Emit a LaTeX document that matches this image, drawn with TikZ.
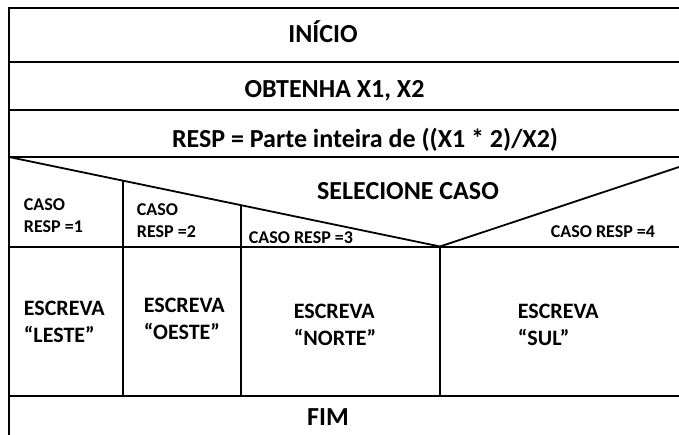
\documentclass[tikz,border=0pt]{standalone}
\usepackage{fontspec}
\setmainfont{Carlito}
\tikzset{
  big/.style={inner sep=0pt, anchor=base, font=\bfseries\fontsize{26}{30}\selectfont},
  cell/.style={inner sep=0pt, anchor=north west, align=left, font=\bfseries\fontsize{22}{27}\selectfont},
  caso/.style={inner sep=0pt, anchor=north west, align=left, font=\bfseries\fontsize{18}{22}\selectfont}
}
\begin{document}
\begin{tikzpicture}[x=1pt,y=-1pt,line width=1.8pt]
\useasboundingbox (0,0) rectangle (679,435);

\draw (679,8) -- (9,8) -- (9,435);
\draw (9,62) -- (679,62);
\draw (9,110) -- (679,110);
\draw (9,157) -- (679,157);
\draw (9,247) -- (679,247);
\draw (9,396) -- (679,396);
\draw (9,157) -- (440,246.5) -- (679,167);
\draw (123,181) -- (123,396);
\draw (241,205.5) -- (241,396);
\draw (440,246.5) -- (440,396);

\node[big] (inicio) at (323,43) {INÍCIO};
\node[big] (obtenha) at (334.5,98) {OBTENHA X1, X2};
\node[big] (resp) at (365,148) {RESP = Parte inteira de ((X1 * 2)/X2)};
\node[big] (selecione) at (408,200) {SELECIONE CASO};

\node[caso] (caso1) at (23,198) {CASO\\RESP =1};
\node[caso] (caso2) at (136,203) {CASO\\RESP =2};
\node[caso] (caso3) at (248,231) {CASO RESP =3};
\node[caso] (caso4) at (550,225) {CASO RESP =4};

\node[cell] (leste) at (23,300) {ESCREVA\\“LESTE”};
\node[cell] (oeste) at (143,297) {ESCREVA\\“OESTE”};
\node[cell] (norte) at (293,303) {ESCREVA\\“NORTE”};
\node[cell] (sul) at (517,303) {ESCREVA\\“SUL”};

\node[big] (fim) at (328,425) {FIM};
\end{tikzpicture}
\end{document}
